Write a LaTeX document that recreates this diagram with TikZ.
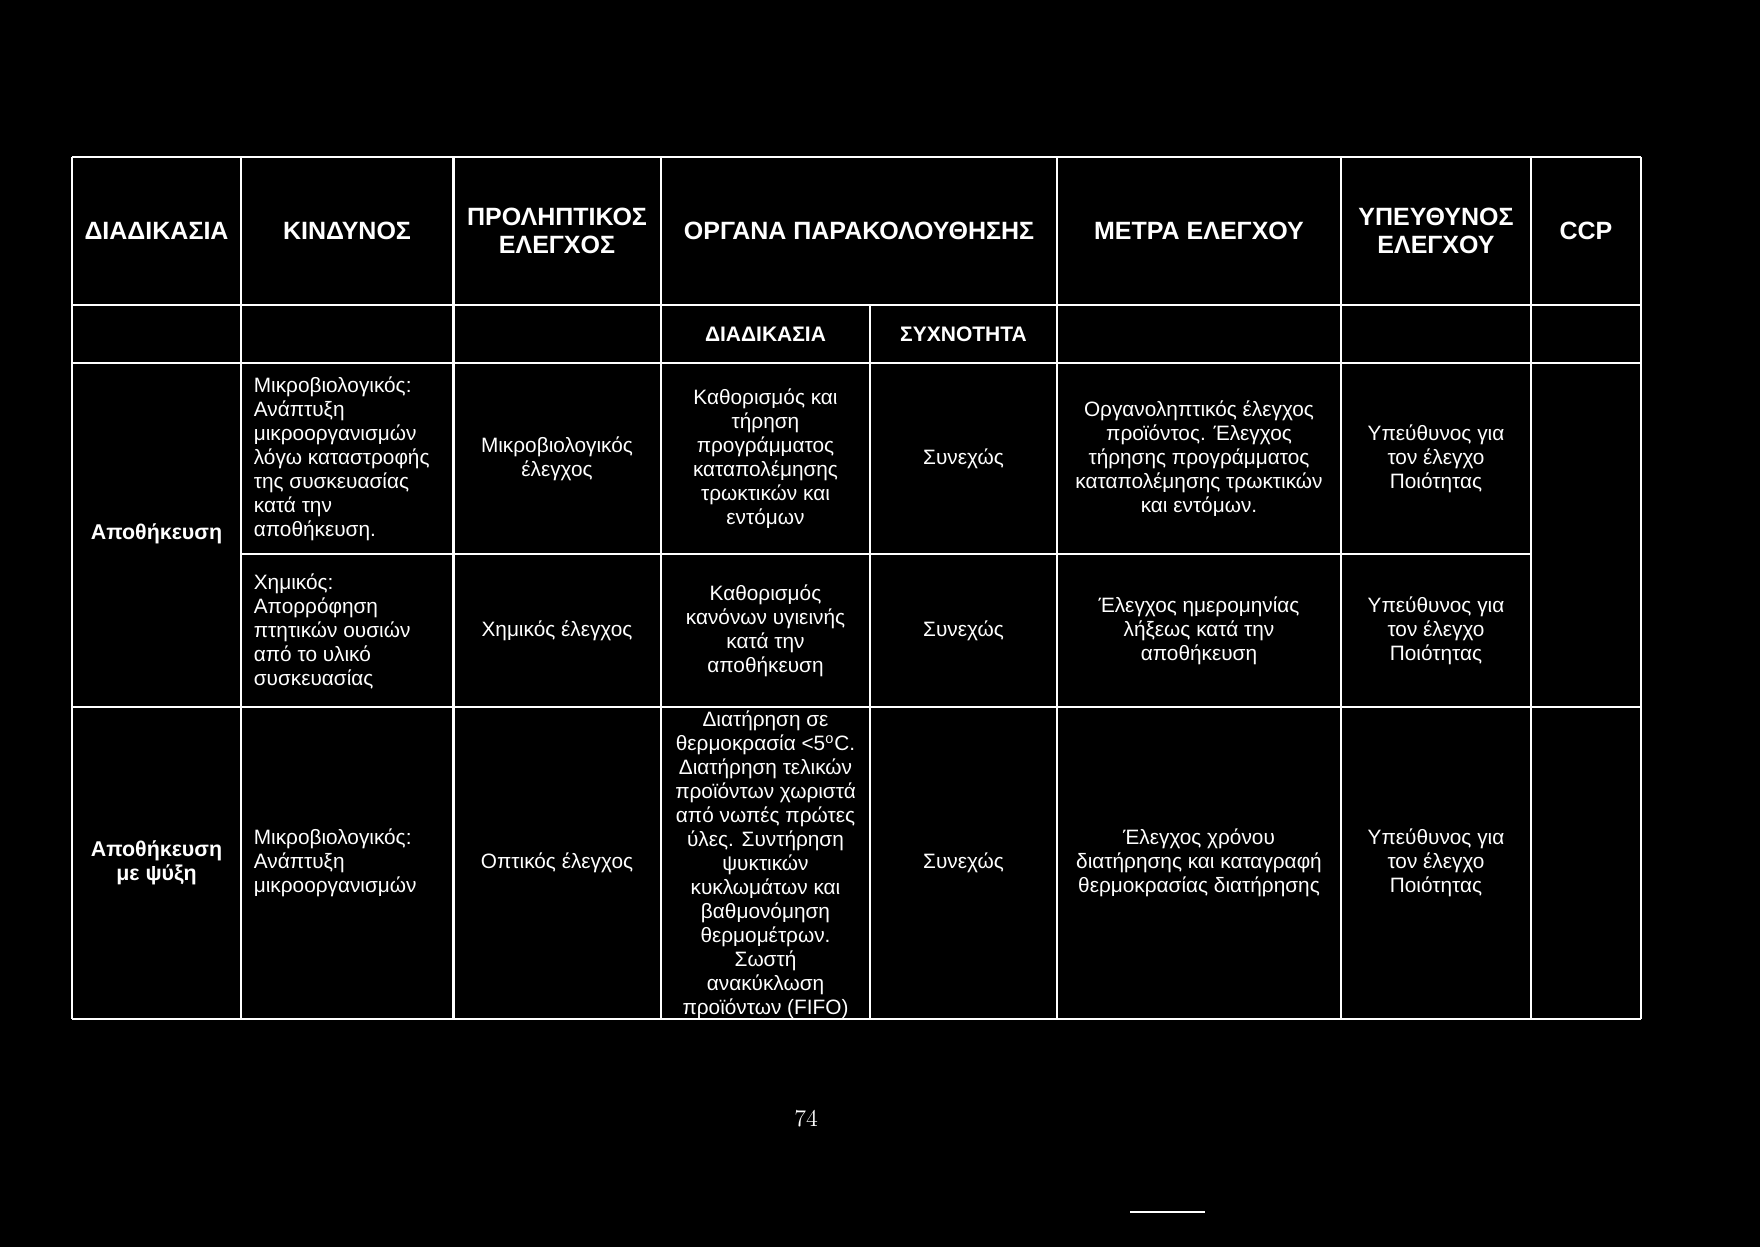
\documentclass[tikz,border=0pt]{standalone}
\usepackage{fontspec}
\newfontfamily\tabfont{Liberation Sans}
\usepackage{tikz}

\begin{document}
\begin{tikzpicture}[x=0.5pt, y=-0.5pt, white, line width=1.2pt,
  hdr/.style = {font=\tabfont\bfseries\fontsize{12.5}{14}\selectfont, align=center},
  sub/.style = {font=\tabfont\bfseries\fontsize{10.5}{12}\selectfont},
  txt/.style = {font=\tabfont\fontsize{10.4}{12}\selectfont, align=center},
  ltxt/.style = {txt, align=left, anchor=west},
  btxt/.style = {txt, font=\tabfont\bfseries\fontsize{10.7}{12}\selectfont}]
  \fill[black] (0,0) rectangle (1760,1247);

  % table rules
  \foreach \x in {72,241,453.5,661,1057,1341,1531,1641}
    \draw (\x,157) -- (\x,1019);
  \foreach \y in {157,305,363,707,1019}
    \draw (72,\y) -- (1641,\y);
  \draw (870,305) -- (870,1019);
  \draw (241,554) -- (1531,554);

  % header
  \node[hdr] (h1) at (156.5,231) {ΔΙΑΔΙΚΑΣΙΑ};
  \node[hdr] (h2) at (347,231) {ΚΙΝΔΥΝΟΣ};
  \node[hdr] (h3) at (557,231) {ΠΡΟΛΗΠΤΙΚΟΣ\\ΕΛΕΓΧΟΣ};
  \node[hdr] (h4) at (859,231) {ΟΡΓΑΝΑ ΠΑΡΑΚΟΛΟΥΘΗΣΗΣ};
  \node[hdr] (h5) at (1199,231) {ΜΕΤΡΑ ΕΛΕΓΧΟΥ};
  \node[hdr] (h6) at (1436,231) {ΥΠΕΥΘΥΝΟΣ\\ΕΛΕΓΧΟΥ};
  \node[hdr] (h7) at (1586,231) {CCP};
  \node[sub] (s1) at (765.5,334) {ΔΙΑΔΙΚΑΣΙΑ};
  \node[sub] (s2) at (963.5,334) {ΣΥΧΝΟΤΗΤΑ};

  % storage
  \node[btxt] (a1) at (156.5,534) {Αποθήκευση};
  \node[ltxt] (a2) at (246,459) {Μικροβιολογικός:\\Ανάπτυξη\\μικροοργανισμών\\λόγω καταστροφής\\της συσκευασίας\\κατά την\\αποθήκευση.};
  \node[txt] (a3) at (557,459) {Μικροβιολογικός\\έλεγχος};
  \node[txt] (a4) at (765.5,459) {Καθορισμός και\\τήρηση\\προγράμματος\\καταπολέμησης\\τρωκτικών και\\εντόμων};
  \node[txt] (a5) at (963.5,459) {Συνεχώς};
  \node[txt] (a6) at (1199,459) {Οργανοληπτικός έλεγχος\\προϊόντος. Έλεγχος\\τήρησης προγράμματος\\καταπολέμησης τρωκτικών\\και εντόμων.};
  \node[txt] (a7) at (1436,459) {Υπεύθυνος για\\τον έλεγχο\\Ποιότητας};

  \node[ltxt] (b2) at (246,631) {Χημικός:\\Απορρόφηση\\πτητικών ουσιών\\από το υλικό\\συσκευασίας};
  \node[txt] (b3) at (557,631) {Χημικός έλεγχος};
  \node[txt] (b4) at (765.5,631) {Καθορισμός\\κανόνων υγιεινής\\κατά την\\αποθήκευση};
  \node[txt] (b5) at (963.5,631) {Συνεχώς};
  \node[txt] (b6) at (1199,631) {Έλεγχος ημερομηνίας\\λήξεως κατά την\\αποθήκευση};
  \node[txt] (b7) at (1436,631) {Υπεύθυνος για\\τον έλεγχο\\Ποιότητας};

  % cold storage
  \node[btxt] (c1) at (156.5,863) {Αποθήκευση\\με ψύξη};
  \node[ltxt] (c2) at (246,863) {Μικροβιολογικός:\\Ανάπτυξη\\μικροοργανισμών};
  \node[txt] (c3) at (557,863) {Οπτικός έλεγχος};
  \node[txt] (c4) at (765.5,865) {Διατήρηση σε\\θερμοκρασία <5\textsuperscript{o}C.\\Διατήρηση τελικών\\προϊόντων χωριστά\\από νωπές πρώτες\\ύλες. Συντήρηση\\ψυκτικών\\κυκλωμάτων και\\βαθμονόμηση\\θερμομέτρων.\\Σωστή\\ανακύκλωση\\προϊόντων (FIFO)};
  \node[txt] (c5) at (963.5,863) {Συνεχώς};
  \node[txt] (c6) at (1199,863) {Έλεγχος χρόνου\\διατήρησης και καταγραφή\\θερμοκρασίας διατήρησης};
  \node[txt] (c7) at (1436,863) {Υπεύθυνος για\\τον έλεγχο\\Ποιότητας};

  % page number
  \node[font=\fontsize{12}{14}\selectfont] (pg) at (806,1119) {74};
  \draw[line width=1pt] (1130,1212) -- (1205,1212);
\end{tikzpicture}
\end{document}
